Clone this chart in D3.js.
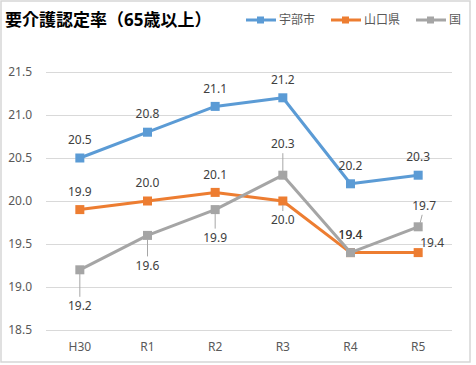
<!DOCTYPE html>
<html>
<head>
<meta charset="utf-8">
<script src="https://cdn.jsdelivr.net/npm/d3@7"></script>
<style>
  body { margin: 0; background: #fff; }
  svg text { font-family: "Noto Sans", "Noto Sans CJK JP", sans-serif; }
</style>
</head>
<body>
<svg id="chart" width="476" height="365"></svg>
<script>
// data
var categories = ["H30", "R1", "R2", "R3", "R4", "R5"];
var seriesNames = ["宇部市", "山口県", "国"];
var ubeValues = [20.5, 20.8, 21.1, 21.2, 20.2, 20.3];
var yamaguchiValues = [19.9, 20.0, 20.1, 20.0, 19.4, 19.4];
var kuniValues = [19.2, 19.6, 19.9, 20.3, 19.4, 19.7];
var yTicks = [18.5, 19.0, 19.5, 20.0, 20.5, 21.0, 21.5];

var colors = ["#5b9bd5", "#ed7d31", "#a5a5a5"];

// label placement (dx, dy from the point), leader line flag
var labelPos = [
  [[0,-18],[0,-18],[0,-18],[0,-18],[0,-18],[0,-18]],
  [[0,-18],[0,-18],[0,-18],[0,19,1],[0,-18],[14,-10]],
  [[0,36,1],[0,30,1],[0,28,1],[0,-31,1],[0,-18],[6,-21,1]]
];

var series = [ubeValues, yamaguchiValues, kuniValues].map(function(vals, i) {
  return {name: seriesNames[i], color: colors[i], values: vals, pos: labelPos[i]};
});

var svg = d3.select("#chart");

svg.append("rect")
  .attr("x", 1).attr("y", 1)
  .attr("width", 469).attr("height", 361)
  .attr("fill", "#fff")
  .attr("stroke", "#d6d6d6")
  .attr("stroke-width", 1.5);

var plotLeft = 46, plotRight = 452, plotTop = 72, plotBottom = 330;

var x = d3.scaleBand()
  .domain(categories)
  .range([plotLeft, plotRight]);

var y = d3.scaleLinear()
  .domain([18.5, 21.5])
  .range([plotBottom, plotTop]);

// gridlines
svg.append("g")
  .selectAll("line")
  .data(yTicks)
  .enter()
  .append("line")
  .attr("x1", plotLeft).attr("x2", plotRight)
  .attr("y1", function(d) { return Math.round(y(d)) + 0.5; })
  .attr("y2", function(d) { return Math.round(y(d)) + 0.5; })
  .attr("stroke", "#d9d9d9")
  .attr("stroke-width", 1);

// y labels
svg.append("g")
  .selectAll("text")
  .data(yTicks)
  .enter()
  .append("text")
  .attr("x", 32)
  .attr("y", function(d) { return y(d); })
  .attr("dy", "0.35em")
  .attr("text-anchor", "end")
  .attr("font-size", 12)
  .attr("fill", "#595959")
  .text(function(d) { return d3.format(".1f")(d); });

// x labels
svg.append("g")
  .selectAll("text")
  .data(categories)
  .enter()
  .append("text")
  .attr("x", function(d) { return x(d) + x.bandwidth() / 2; })
  .attr("y", 347)
  .attr("dy", "0.35em")
  .attr("text-anchor", "middle")
  .attr("font-size", 12)
  .attr("fill", "#595959")
  .text(function(d) { return d; });

var cx = function(i) { return x(categories[i]) + x.bandwidth() / 2; };

var line = d3.line()
  .x(function(d, i) { return cx(i); })
  .y(function(d) { return y(d); });

series.forEach(function(s) {
  var g = svg.append("g");
  g.append("path")
    .datum(s.values)
    .attr("d", line)
    .attr("fill", "none")
    .attr("stroke", s.color)
    .attr("stroke-width", 3)
    .attr("stroke-linejoin", "round");
  g.selectAll("rect")
    .data(s.values)
    .enter()
    .append("rect")
    .attr("x", function(d, i) { return cx(i) - 4.5; })
    .attr("y", function(d) { return y(d) - 4.5; })
    .attr("width", 9).attr("height", 9)
    .attr("fill", s.color);
});

// data labels
series.forEach(function(s) {
  var g = svg.append("g");
  s.values.forEach(function(v, i) {
    var px = cx(i), py = y(v);
    var p = s.pos[i];
    var lx = px + p[0], ly = py + p[1];
    if (p[2]) {
      var dir = p[1] > 0 ? 1 : -1;
      g.append("line")
        .attr("x1", px + (p[0] ? 2 : 0)).attr("y1", py + dir * 4)
        .attr("x2", lx - (p[0] ? 2 : 0)).attr("y2", ly - dir * 9)
        .attr("stroke", "#a6a6a6")
        .attr("stroke-width", 1);
    }
    g.append("text")
      .attr("x", lx).attr("y", ly)
      .attr("dy", "0.35em")
      .attr("text-anchor", "middle")
      .attr("font-size", 12)
      .attr("fill", "#404040")
      .text(d3.format(".1f")(v));
  });
});

// title
svg.append("text")
  .attr("x", 5).attr("y", 20)
  .attr("dy", "0.35em")
  .attr("font-size", 17)
  .attr("font-weight", "bold")
  .attr("fill", "#000")
  .text("要介護認定率（65歳以上）");

// legend
var legendX = [246, 331, 416];
series.forEach(function(s, i) {
  var g = svg.append("g").attr("transform", "translate(" + legendX[i] + ",20)");
  g.append("line")
    .attr("x1", 0).attr("x2", 30)
    .attr("stroke", s.color).attr("stroke-width", 3);
  g.append("rect")
    .attr("x", 11).attr("y", -3.5)
    .attr("width", 7).attr("height", 7)
    .attr("fill", s.color);
  g.append("text")
    .attr("x", 33).attr("y", 0)
    .attr("dy", "0.35em")
    .attr("font-size", 12)
    .attr("fill", "#595959")
    .text(s.name);
});
</script>
</body>
</html>
